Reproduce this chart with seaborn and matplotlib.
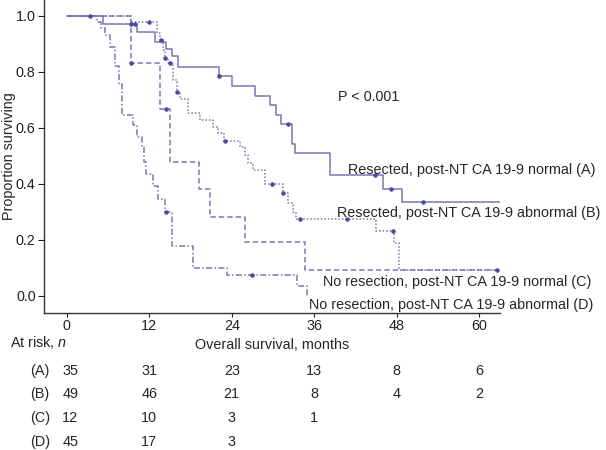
import matplotlib
matplotlib.use("Agg")
import matplotlib.pyplot as plt
import seaborn as sns
import pandas as pd
import numpy as np

# Kaplan-Meier steps: event times (months) and survival after each step
a_times = [5.3, 10.2, 12.8, 14.5, 15.3, 16.2, 22.2, 24.0, 27.4, 29.5, 30.4, 31.2, 32.7, 33.2, 38.3, 46.0, 48.8]
a_surv = [0.971, 0.942, 0.908, 0.881, 0.855, 0.819, 0.785, 0.751, 0.714, 0.682, 0.646, 0.614, 0.542, 0.510, 0.431, 0.380, 0.333]
a_end = 63.0
a_censor = [9.4, 9.9, 22.2, 32.2, 44.8, 47.2, 51.8]

b_times = [9.4, 13.1, 13.6, 14.0, 14.3, 14.8, 15.5, 16.0, 16.5, 17.7, 19.4, 21.3, 22.0, 22.8, 25.2, 25.9,
           26.4, 27.1, 28.9, 31.5, 32.2, 32.9, 33.4, 45.0, 47.6, 48.3]
b_surv = [0.980, 0.938, 0.914, 0.878, 0.849, 0.831, 0.771, 0.729, 0.703, 0.652, 0.628, 0.604, 0.581, 0.551, 0.533, 0.503,
          0.473, 0.449, 0.398, 0.366, 0.330, 0.300, 0.274, 0.232, 0.187, 0.093]
b_end = 62.5
b_censor = [11.9, 13.7, 14.3, 15.0, 16.1, 23.0, 29.8, 31.5, 33.9, 40.8, 47.5]

c_times = [9.4, 13.6, 15.0, 19.3, 20.8, 25.9, 34.6]
c_surv = [0.833, 0.667, 0.476, 0.380, 0.280, 0.191, 0.092]
c_end = 62.5
c_censor = [9.4, 14.4, 62.5]

d_times = [4.4, 5.0, 5.5, 6.3, 7.0, 7.6, 8.1, 9.6, 10.2, 10.9, 11.2, 11.6, 12.6, 13.3, 14.3, 15.3, 18.3, 23.3, 33.5, 34.9]
d_surv = [0.978, 0.956, 0.933, 0.889, 0.822, 0.756, 0.644, 0.610, 0.567, 0.533, 0.476, 0.434, 0.392, 0.345, 0.298,
          0.177, 0.100, 0.072, 0.035, 0.0]
d_end = 34.9
d_censor = [3.4, 14.4, 26.9]

group_keys = ["A", "B", "C", "D"]
group_names = ["Resected, post-NT CA 19-9 normal (A)", "Resected, post-NT CA 19-9 abnormal (B)",
               "No resection, post-NT CA 19-9 normal (C)", "No resection, post-NT CA 19-9 abnormal (D)"]

# numbers at risk
risk_months = [0, 12, 24, 36, 48, 60]
risk_a = [35, 31, 23, 13, 8, 6]
risk_b = [49, 46, 21, 8, 4, 2]
risk_c = [12, 10, 3, 1]
risk_d = [45, 17, 3]

curves = {
    "A": (a_times, a_surv, a_end, a_censor),
    "B": (b_times, b_surv, b_end, b_censor),
    "C": (c_times, c_surv, c_end, c_censor),
    "D": (d_times, d_surv, d_end, d_censor),
}
risks = {"A": risk_a, "B": risk_b, "C": risk_c, "D": risk_d}

line_color = "#7676b6"
mark_color = "#4a4a9c"
styles = {"A": "-", "B": (0, (1, 1.3)), "C": (0, (3.5, 2)), "D": (0, (4, 1.5, 1, 1.5))}

sns.set_style("white")
plt.rcParams["font.family"] = ["Liberation Sans", "DejaVu Sans"]
plt.rcParams["mathtext.fontset"] = "custom"
plt.rcParams["mathtext.it"] = "Liberation Sans:italic"
plt.rcParams["mathtext.rm"] = "Liberation Sans"

fig = plt.figure(figsize=(6.06, 4.5), dpi=100)
ax = fig.add_axes([0.0726, 0.304, 0.7525, 0.696])

for key in group_keys:
    times, surv, end, cens = curves[key]
    x = [0.0] + times + [end]
    y = [1.0] + surv + [surv[-1]]
    df = pd.DataFrame({"month": x, "surv": y})
    sns.lineplot(data=df, x="month", y="surv", ax=ax, drawstyle="steps-post", estimator=None, sort=False,
                 color=line_color, linewidth=1.1, linestyle=styles[key])
    # censor marks sit on the curve
    idx = np.searchsorted(np.array(x), np.array(cens), side="right") - 1
    cdf = pd.DataFrame({"month": cens, "surv": np.array(y)[idx]})
    sns.scatterplot(data=cdf, x="month", y="surv", ax=ax, marker="o", s=7, color=mark_color,
                    edgecolor=mark_color, linewidth=0.5, zorder=3)

ax.set_xlim(-3.3, 63.0)
ax.set_ylim(-0.063, 1.057)
ax.set_xticks(risk_months)
ax.set_yticks([0.0, 0.2, 0.4, 0.6, 0.8, 1.0])
ax.set_yticklabels(["0.0", "0.2", "0.4", "0.6", "0.8", "1.0"])
ax.tick_params(axis="both", labelsize=10.4, length=4, width=0.8, pad=2, direction="out",
               bottom=True, left=True, colors="#222222")
ax.tick_params(axis="x", length=3, pad=1)
for side in ["top", "right"]:
    ax.spines[side].set_visible(False)
for side in ["left", "bottom"]:
    ax.spines[side].set_color("#333333")
    ax.spines[side].set_linewidth(1.0)
ax.set_ylabel("Proportion surviving", fontsize=10.4)
ax.yaxis.set_label_coords(-0.062, 0.5)
ax.set_xlabel("Overall survival, months", fontsize=10.4, labelpad=4)

ax.text(39.5, 0.71, "P < 0.001", fontsize=10.4, va="center", ha="left")
label_pos = {"A": (40.9, 0.449), "B": (39.3, 0.296), "C": (37.3, 0.049), "D": (35.2, -0.033)}
for key, name in zip(group_keys, group_names):
    lx, ly = label_pos[key]
    ax.text(lx, ly, name, fontsize=10.4, va="center", ha="left", clip_on=False)

# risk table below the axis
ax.text(-8.2, -0.168, "At risk, $\\it{n}$", fontsize=10.4, va="center", ha="left", clip_on=False)
row_y = {"A": -0.268, "B": -0.353, "C": -0.436, "D": -0.524}
for key in group_keys:
    ax.text(-3.9, row_y[key], f"({key})", fontsize=10.4, va="center", ha="center", clip_on=False)
    for m, n in zip(risk_months, risks[key]):
        ax.text(m + (0.5 if m == 0 else 0), row_y[key], str(n), fontsize=10.4, va="center", ha="center",
                clip_on=False)

fig.savefig("out.png", dpi=100)
